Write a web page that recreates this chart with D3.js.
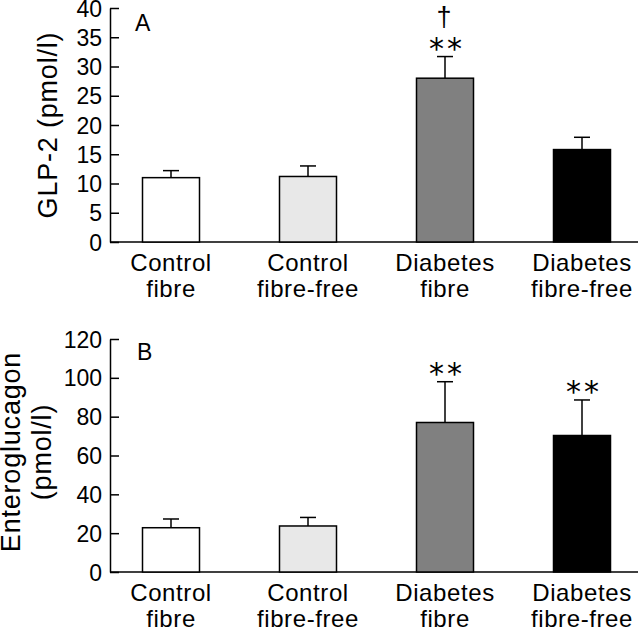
<!DOCTYPE html>
<html><head><meta charset="utf-8">
<script src="https://cdn.jsdelivr.net/npm/d3@7"></script>
<style>
html,body{margin:0;padding:0;background:#fff;}
svg{display:block;font-family:"Liberation Sans",Arial,Helvetica,sans-serif;}
</style></head>
<body>
<svg id="chart" width="640" height="629"></svg>
<script>
const categories = [["Control","fibre"],["Control","fibre-free"],["Diabetes","fibre"],["Diabetes","fibre-free"]];
const catKeys = ["Control fibre","Control fibre-free","Diabetes fibre","Diabetes fibre-free"];
const fills = ["#ffffff","#e8e8e8","#808080","#000000"];
const glp2Mean = [11.0, 11.2, 28.0, 15.8];
const glp2Err  = [1.2, 1.8, 3.7, 2.1];
const glp2Marks = ["", "", "**", ""];
const glp2Dagger = ["", "", "†", ""];
const enteroMean = [22.8, 23.7, 77.0, 70.3];
const enteroErr  = [4.5, 4.4, 21.0, 18.3];
const enteroMarks = ["", "", "**", "**"];
const glp2Ticks = [0,5,10,15,20,25,30,35,40];
const enteroTicks = [0,20,40,60,80,100,120];

const svg = d3.select("#chart");
const x = d3.scalePoint().domain(catKeys).range([171, 582]);
const barW = 57;

function panel(cfg){
  const g = svg.append("g");
  const y = d3.scaleLinear().domain(cfg.domain).range(cfg.range);
  const ax = d3.axisRight(y).tickValues(cfg.ticks).tickSize(9).tickSizeOuter(0).tickFormat("");
  const yg = g.append("g").attr("transform","translate(110,0)").call(ax);
  yg.select(".domain").attr("stroke","#000").attr("stroke-width",1.5);
  yg.selectAll(".tick line").attr("stroke","#000").attr("stroke-width",1.5);
  g.selectAll(".tl").data(cfg.ticks).enter().append("text")
    .attr("x",102).attr("y",d=>y(d)).attr("dy","0.37em")
    .attr("text-anchor","end").attr("font-size",23).attr("fill","#000")
    .text(d=>d);
  g.append("line").attr("x1",110).attr("x2",638)
    .attr("y1",y(0)).attr("y2",y(0)).attr("stroke","#000").attr("stroke-width",1.5);
  catKeys.forEach((k,i)=>{
    const cx = x(k);
    const top = y(cfg.mean[i]+cfg.err[i]);
    g.append("line").attr("x1",cx).attr("x2",cx).attr("y1",y(cfg.mean[i])).attr("y2",top)
      .attr("stroke","#000").attr("stroke-width",1.5);
    g.append("line").attr("x1",cx-8).attr("x2",cx+8).attr("y1",top).attr("y2",top)
      .attr("stroke","#000").attr("stroke-width",1.5);
    if(cfg.marks[i]){
      g.append("text").attr("x",cx+2).attr("y",top+2).attr("text-anchor","middle")
        .attr("font-size",30).attr("letter-spacing",3).attr("fill","#000")
        .style("font-family","'DejaVu Sans',sans-serif")
        .text(cfg.marks[i]);
    }
    if(cfg.dagger && cfg.dagger[i]){
      g.append("text").attr("x",cx-1).attr("y",top-31).attr("text-anchor","middle")
        .attr("font-size",27).attr("fill","#000").text(cfg.dagger[i]);
    }
  });
  g.selectAll(".bar").data(catKeys).enter().append("rect")
    .attr("x",d=>x(d)-barW/2).attr("width",barW)
    .attr("y",(d,i)=>y(cfg.mean[i])).attr("height",(d,i)=>y(0)-y(cfg.mean[i]))
    .attr("fill",(d,i)=>fills[i]).attr("stroke","#000").attr("stroke-width",1.5);
  categories.forEach((c,i)=>{
    const t = g.append("text").attr("text-anchor","middle").attr("font-size",24)
      .attr("letter-spacing",0.6).attr("fill","#000");
    t.append("tspan").attr("x",x(catKeys[i])).attr("y",y(0)+29).text(c[0]);
    t.append("tspan").attr("x",x(catKeys[i])).attr("y",y(0)+55).text(c[1]);
  });
  g.append("text").attr("x",cfg.letterX).attr("y",cfg.letterY).attr("font-size",23)
    .attr("fill","#000").text(cfg.letter);
  cfg.ylabel.forEach((line,j)=>{
    g.append("text").attr("transform",`translate(${cfg.ylabelX[j]},${cfg.ylabelY}) rotate(-90)`)
      .attr("text-anchor","middle").attr("font-size",cfg.ylabelSize).attr("fill","#000")
      .attr("letter-spacing",0.8).text(line);
  });
}

panel({domain:[0,40], range:[242,8], ticks:glp2Ticks, mean:glp2Mean, err:glp2Err,
  marks:glp2Marks, dagger:glp2Dagger, letter:"A", letterX:135, letterY:31,
  ylabel:["GLP-2 (pmol/l)"], ylabelX:[57], ylabelY:125, ylabelSize:27});
panel({domain:[0,120], range:[572,339], ticks:enteroTicks, mean:enteroMean, err:enteroErr,
  marks:enteroMarks, letter:"B", letterX:137, letterY:360,
  ylabel:["Enteroglucagon","(pmol/l)"], ylabelX:[20,51], ylabelY:452, ylabelSize:27});
</script>
</body></html>
